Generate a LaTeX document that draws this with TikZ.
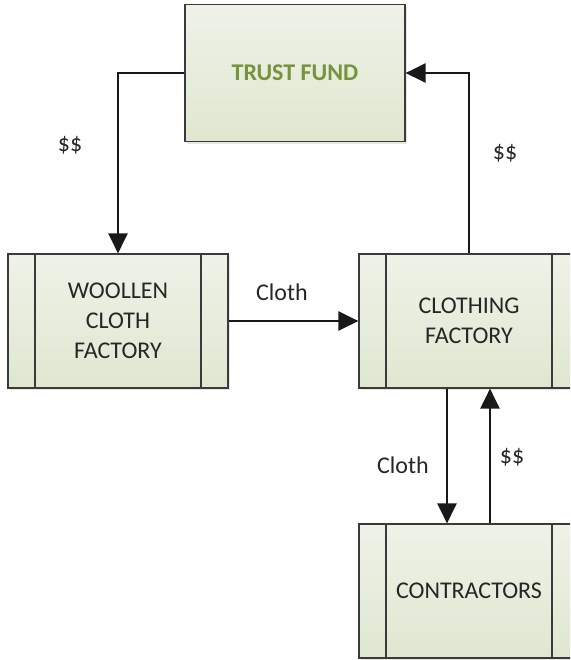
\documentclass[tikz,border=0pt]{standalone}
\usepackage{fontspec}
\setmainfont{Carlito}
\usepackage{tikz}
\usetikzlibrary{positioning,arrows.meta,shadows}
\definecolor{boxtop}{HTML}{EFF2E8}
\definecolor{boxbottom}{HTML}{DFE7D0}
\definecolor{fundgreen}{HTML}{77933C}
\definecolor{edgegray}{HTML}{3A3A3A}
\definecolor{inkgray}{HTML}{262626}

\begin{document}
\begin{tikzpicture}[x=0.5pt, y=-0.5pt,
  block/.style = {draw=edgegray, line width=0.6pt, top color=boxtop, bottom color=boxbottom,
    minimum width=110pt, minimum height=67pt, align=center, text=inkgray,
    font=\fontsize{12}{15}\selectfont,
    drop shadow={shadow xshift=1pt, shadow yshift=-1pt, opacity=0.2}},
  process/.style = {block, path picture={
    \draw[edgegray, line width=0.6pt]
      ([xshift=13.5pt]path picture bounding box.north west) -- ([xshift=13.5pt]path picture bounding box.south west)
      ([xshift=-13.5pt]path picture bounding box.north east) -- ([xshift=-13.5pt]path picture bounding box.south east);}},
  flow/.style = {line width=1.4pt, black!90, -{Triangle[length=10pt,width=9.5pt]}},
  tag/.style = {text=inkgray, font=\fontsize{12}{14}\selectfont}]
  \useasboundingbox (0,0) rectangle (570,660);
  \clip (0,0) rectangle (570,660);
  % Nodes
  \node[block, minimum height=68.5pt, text=fundgreen, font=\fontsize{12}{14}\bfseries] (trust) at (295,73) {TRUST FUND};
  \node[process] (woollen) at (118,321) {WOOLLEN\\CLOTH\\FACTORY};
  \node[process] (clothing) at (469,321) {CLOTHING\\FACTORY};
  \node[process] (contractors) at (469,591) {CONTRACTORS};
  % Edges
  \draw[flow] (trust.west) -| (woollen.north);
  \draw[flow] (clothing.north) |- (trust.east);
  \draw[flow] (woollen) -- (clothing);
  \draw[flow] ([xshift=-11pt]clothing.south) -- ([xshift=-11pt]contractors.north);
  \draw[flow] ([xshift=10.5pt]contractors.north) -- ([xshift=10.5pt]clothing.south);
  % Labels
  \node[tag] (fundcash) at (70,145) {\$\$};
  \node[tag] (factorycash) at (505,153) {\$\$};
  \node[tag] (woolcloth) at (282,292) {Cloth};
  \node[tag] (suitcloth) at (403,465) {Cloth};
  \node[tag] (contractcash) at (512,457) {\$\$};
\end{tikzpicture}
\end{document}
